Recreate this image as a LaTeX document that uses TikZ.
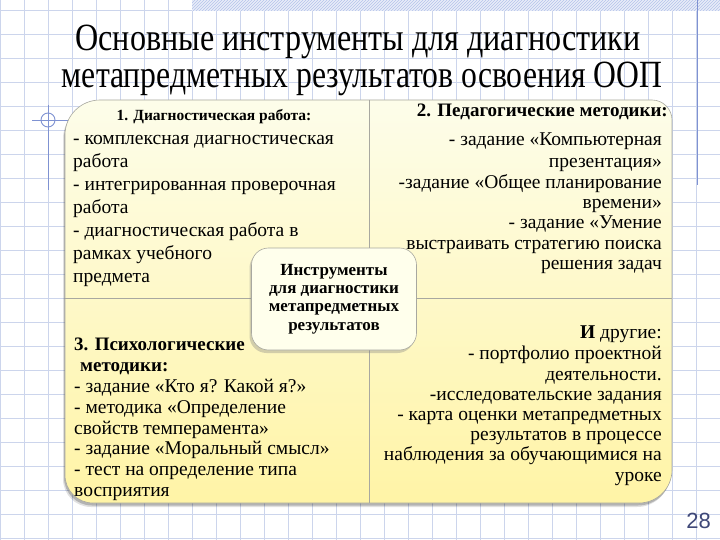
\documentclass[tikz,border=0pt]{standalone}
\usepackage{graphicx}
\usepackage{fontspec}
\setmainfont{Liberation Serif}
\newfontfamily\numfont{Liberation Sans}
\usetikzlibrary{patterns,shadows}
\definecolor{gridc}{HTML}{CCD5EC}
\definecolor{decob}{HTML}{7F92D2}
\definecolor{hatchc}{HTML}{B4C3EA}
\definecolor{paneltop}{HTML}{FDFDEA}
\definecolor{panelmid}{HTML}{FFF8B8}
\definecolor{panelbot}{HTML}{FFF4A6}
\definecolor{edgec}{HTML}{A8A8A0}
\definecolor{boxc}{HTML}{FFFFEC}
\definecolor{numc}{HTML}{3F4878}
\begin{document}
\begin{tikzpicture}[x=1pt,y=-1pt,
  bodyL/.style={anchor=base west,inner sep=0pt,font=\fontsize{19.5}{22}\selectfont},
  bodyR/.style={anchor=base east,inner sep=0pt,font=\fontsize{19.5}{22}\selectfont},
  headL/.style={anchor=base west,inner sep=0pt,font=\fontsize{19}{22}\selectfont\bfseries},
  headR/.style={anchor=base east,inner sep=0pt,font=\fontsize{19}{22}\selectfont\bfseries},
  titlenode/.style={anchor=base,inner sep=0pt},
  gridline/.style={gridc,line width=0.8pt},
  deco/.style={decob,line width=0.9pt},
  divider/.style={edgec,line width=0.6pt}]
\useasboundingbox (0,0) rectangle (720,540);
\fill[white] (0,0) rectangle (720,540);
% grid
\foreach \i in {0,...,30} \draw[gridline] (24*\i,0) -- (24*\i,540);
\foreach \j in {0,...,22} \draw[gridline] (0,24*\j+10) -- (720,24*\j+10);
% hatched band
\fill[hatchc!30] (192,0) rectangle (720,11);
\fill[pattern=north east lines,pattern color=hatchc] (192,0) rectangle (720,11);
% decorative lines
\draw[deco] (697,0) -- (697,185);
\draw[deco] (32,120) -- (70,120);
\draw[deco] (48,105) -- (48,190);
\draw[deco] (48,120) circle (7);
% title
\node[titlenode] (t1) at (358,51) {\resizebox{565pt}{25.5pt}{Основные инструменты для диагностики}};
\node[titlenode] (t2) at (362,88) {\resizebox{600pt}{25.5pt}{метапредметных результатов освоения ООП}};
% panel
\def\panelpath{(65,135) .. controls (65,115.7) and (80.7,100) .. (100,100) -- (652,100) .. controls (663,100) and (672,109) .. (672,120) -- (672,470) .. controls (672,488.2) and (657.2,503) .. (639,503) -- (93,503) .. controls (77.5,503) and (65,490.5) .. (65,475) -- cycle}
\fill[black,opacity=0.12,shift={(-2,4)}] \panelpath;
\fill[black,opacity=0.2,shift={(-1,2.5)}] \panelpath;
\shade[top color=paneltop,middle color=panelmid,bottom color=panelbot] \panelpath;
\draw[edgec,line width=0.6pt] \panelpath;
\draw[divider] (369,100) -- (369,503);
\draw[divider] (65,298) -- (672,298);
% quadrant 1
\node[anchor=base,inner sep=0pt,font=\fontsize{15.5}{19}\selectfont\bfseries] (q1h) at (214,121) {1. Диагностическая работа:};
\foreach \y/\t [count=\i] in {145/- комплексная диагностическая,167.5/работа,190.5/- интегрированная проверочная,213.5/работа,236.5/- диагностическая работа в,259.5/рамках учебного,282/предмета}
  \node[bodyL] (q1-\i) at (73,\y) {\t};
% quadrant 2
\node[headR] (q2h) at (668,117) {2. Педагогические методики:};
\foreach \y/\t [count=\i] in {146/- задание «Компьютерная,167.5/презентация»,188.5/-задание «Общее планирование,208/времени»,228.5/- задание «Умение,249/выстраивать стратегию поиска,269/решения задач}
  \node[bodyR] (q2-\i) at (662,\y) {\t};
% quadrant 3
\node[headL] (q3h) at (74,350) {3. Психологические};
\node[headL] (q3h2) at (80,371) {методики:};
\foreach \y/\t [count=\i] in {392/- задание «Кто я? Какой я?»,413/- методика «Определение,434/свойств темперамента»,454/- задание «Моральный смысл»,475/- тест на определение типа,496/восприятия}
  \node[bodyL] (q3-\i) at (74,\y) {\t};
% quadrant 4
\foreach \y/\t [count=\i] in {338/\textbf{И} другие:,359/- портфолио проектной,380/деятельности.,400/-исследовательские задания,420/- карта оценки метапредметных,440/результатов в процессе,460/наблюдения за обучающимися на,481/уроке}
  \node[bodyR] (q4-\i) at (662,\y) {\t};
% centre box
\node[draw=edgec,line width=0.6pt,fill=boxc,rounded corners=17pt,minimum width=165pt,minimum height=102pt,
  drop shadow={shadow xshift=-2pt,shadow yshift=-3pt,opacity=0.35},
  align=center,font=\fontsize{17}{18.3}\selectfont\bfseries] (centre) at (334,299)
  {Инструменты\\для диагностики\\метапредметных\\результатов};
% page number
\node[anchor=base east,inner sep=0pt,text=numc,font=\numfont\fontsize{22}{24}\selectfont] (pnum) at (711,528) {28};
\end{tikzpicture}
\end{document}
